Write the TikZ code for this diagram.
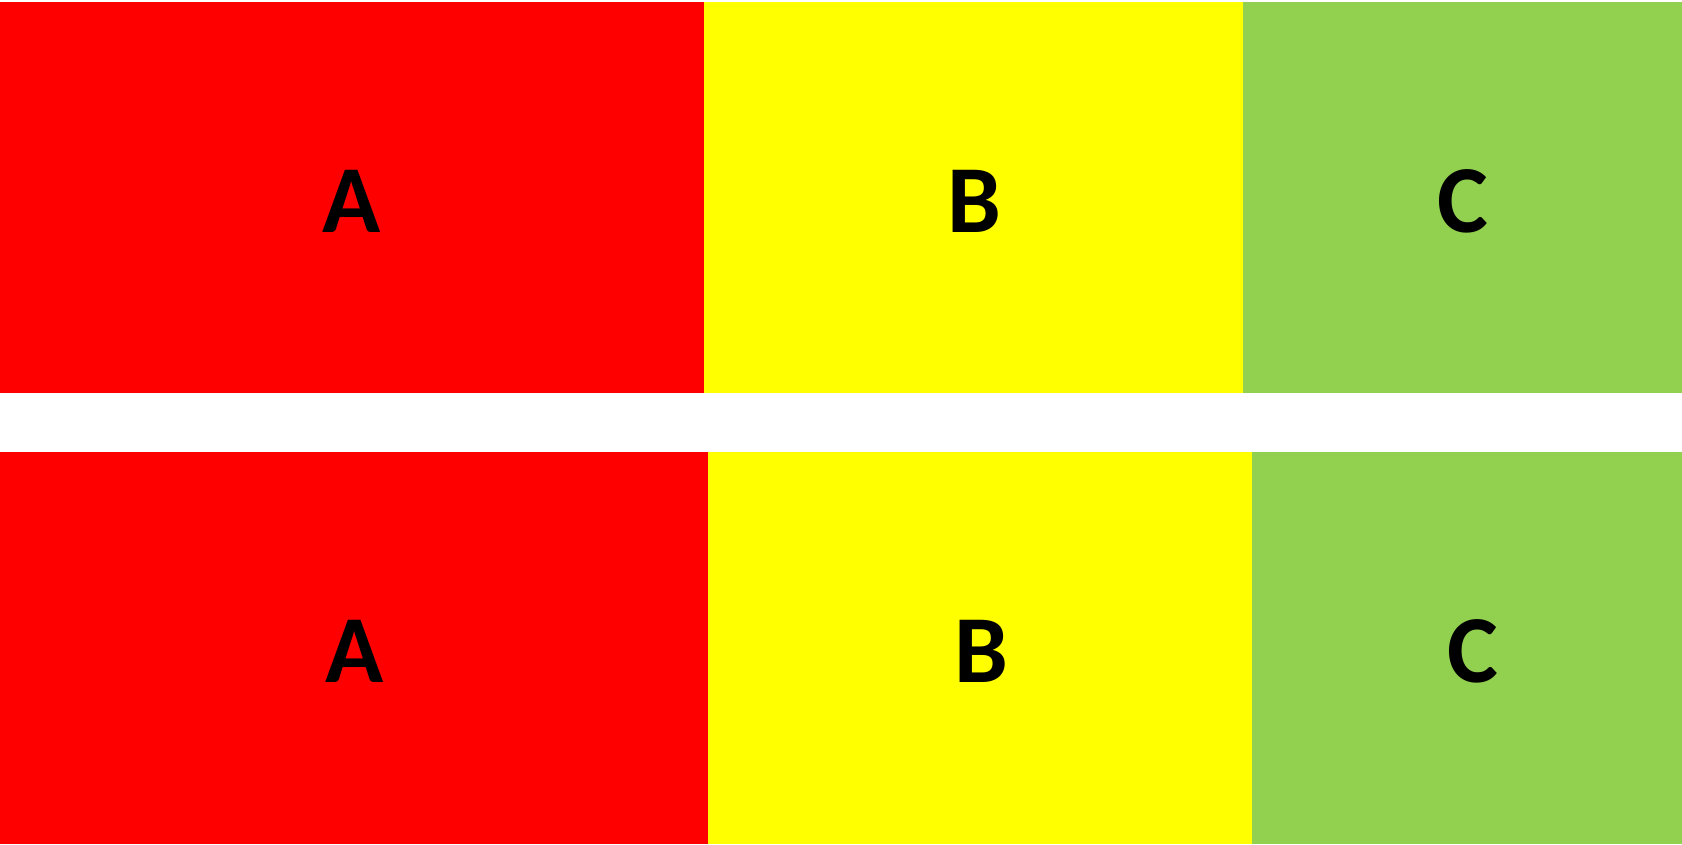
\documentclass[tikz,border=0pt]{standalone}
\usepackage{fontspec}
\setmainfont{Carlito}
\definecolor{cred}{HTML}{FF0000}
\definecolor{cyel}{HTML}{FFFF00}
\definecolor{cgrn}{HTML}{92D050}
\begin{document}
\begin{tikzpicture}[x=1pt,y=-1pt,
  cell/.style={inner sep=0pt, outer sep=0pt, font=\fontsize{96}{100}\selectfont\bfseries}]
\useasboundingbox (0,0) rectangle (1682,844);
\fill[white] (0,0) rectangle (1682,844);
% top row
\fill[cred] (0,2) rectangle (704,393);
\fill[cyel] (704,2) rectangle (1243,393);
\fill[cgrn] (1243,2) rectangle (1682,393);
% bottom row
\fill[cred] (0,452) rectangle (708,844);
\fill[cred] (707,589) rectangle (709,706);
\fill[cyel] (708,452) rectangle (1252,844);
\fill[cyel] (709,589) rectangle (710,706);
\fill[cgrn] (1252,452) rectangle (1682,844);
% labels
\node[cell] (a1) at (352,201) {A};
\node[cell] (b1) at (974,201) {B};
\node[cell] (c1) at (1463,201) {C};
\node[cell] (a2) at (355,651) {A};
\node[cell] (b2) at (981,651) {B};
\node[cell] (c2) at (1473,651) {C};
\end{tikzpicture}
\end{document}
